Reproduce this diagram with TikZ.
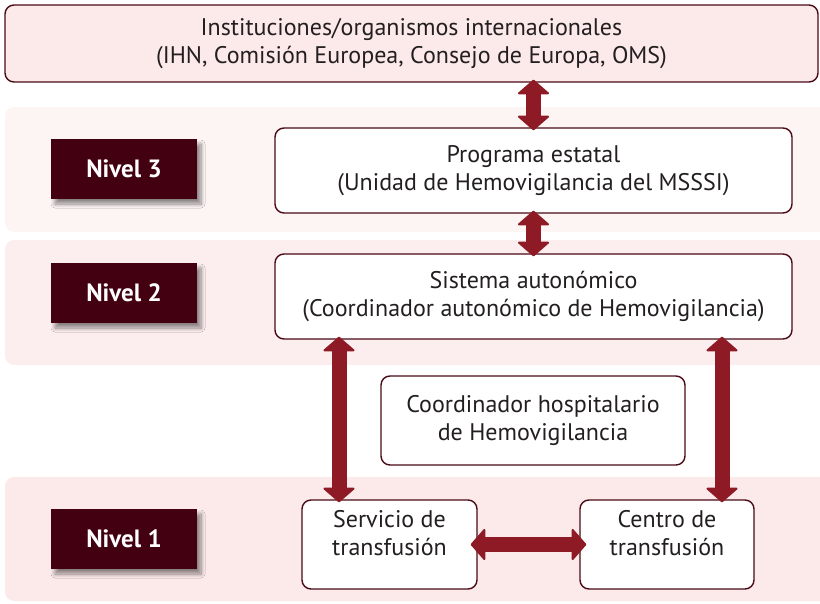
\documentclass[tikz,border=0pt]{standalone}
\usepackage{fontspec}
\setmainfont{PT Sans}
\usepackage{xcolor}
\definecolor{granate}{RGB}{66,0,16}
\definecolor{bordegranate}{RGB}{74,10,22}
\definecolor{flecharoja}{RGB}{141,26,36}
\definecolor{rosanivel3}{RGB}{253,244,244}
\definecolor{rosanivel2}{RGB}{252,237,238}
\definecolor{rosanivel1}{RGB}{252,233,234}
\definecolor{textogris}{RGB}{35,31,32}
\usetikzlibrary{arrows.meta, positioning, calc, shadows.blur}
\tikzset{
  orgbox/.style={
    rectangle, rounded corners=9pt,
    draw=bordegranate, line width=1.4pt, fill=#1,
    align=center, text=textogris, font=\fontsize{24}{28}\selectfont
  },
  nivelbox/.style={
    rectangle, fill=granate, minimum width=146pt, minimum height=60pt,
    text=white, font=\fontsize{25}{28}\selectfont\bfseries,
    blur shadow={shadow xshift=4pt, shadow yshift=-5pt, shadow blur radius=4pt,
                 shadow opacity=45, shadow blur steps=8}
  },
  banda/.style={fill=#1, rounded corners=9pt},
  bigarrow/.style={
    line width=15pt, draw=flecharoja, shorten <=-3pt, shorten >=-3pt,
    {Triangle[length=15pt, width=34pt, line width=2pt, round]}-{Triangle[length=15pt, width=34pt, line width=2pt, round]}
  },
}

\begin{document}
\begin{tikzpicture}[x=1pt, y=-1pt]
  \useasboundingbox (0,0) rectangle (820,604);

  % --- Bandas de fondo de cada nivel ---
  \fill[banda=rosanivel3] (5,107) rectangle (830,232);
  \fill[banda=rosanivel2] (5,240) rectangle (830,365);
  \fill[banda=rosanivel1] (5,477) rectangle (830,601);

  % --- Organismos internacionales ---
  \node (inter) [orgbox=rosanivel1, minimum width=813pt, minimum height=77pt] at (411.5,43.5)
        {Instituciones/organismos internacionales\\(IHN, Comisión Europea, Consejo de Europa, OMS)};

  % --- Etiquetas de nivel ---
  \node (niv3) [nivelbox] at (124,169) {Nivel 3};
  \node (niv2) [nivelbox] at (124,293) {Nivel 2};
  \node (niv1) [nivelbox] at (124,539) {Nivel 1};

  % --- Columna central ---
  \node (prog) [orgbox=white, minimum width=517pt, minimum height=85pt] at (533.5,170.5)
        {Programa estatal\\(Unidad de Hemovigilancia del MSSSI)};
  \node (sist) [orgbox=white, minimum width=517pt, minimum height=85pt] at (533.5,296.5)
        {Sistema autonómico\\(Coordinador autonómico de Hemovigilancia)};
  \node (coord) [orgbox=white, minimum width=304pt, minimum height=89pt] at (533,420.5)
        {Coordinador hospitalario\\de Hemovigilancia};

  % --- Fila inferior: nivel 1 (texto algo subido) ---
  \node (serv)   [orgbox=white, minimum width=175pt, minimum height=89pt, text depth=24pt] at (389.5,544.5)
        {Servicio de\\transfusión};
  \node (centro) [orgbox=white, minimum width=174pt, minimum height=89pt, text depth=24pt] at (667,544.5)
        {Centro de\\transfusión};

  % --- Flechas ---
  \coordinate (izq) at (339,0);
  \coordinate (der) at (722,0);
  \draw[bigarrow] (inter.south -| prog.north) -- (prog.north);
  \draw[bigarrow] (prog.south) -- (sist.north);
  \draw[bigarrow] (sist.south -| izq) -- (serv.north -| izq);
  \draw[bigarrow] (sist.south -| der) -- (centro.north -| der);
  \draw[bigarrow, shorten <=-7pt, shorten >=-7pt] (serv.east) -- (centro.west);

\end{tikzpicture}
\end{document}
